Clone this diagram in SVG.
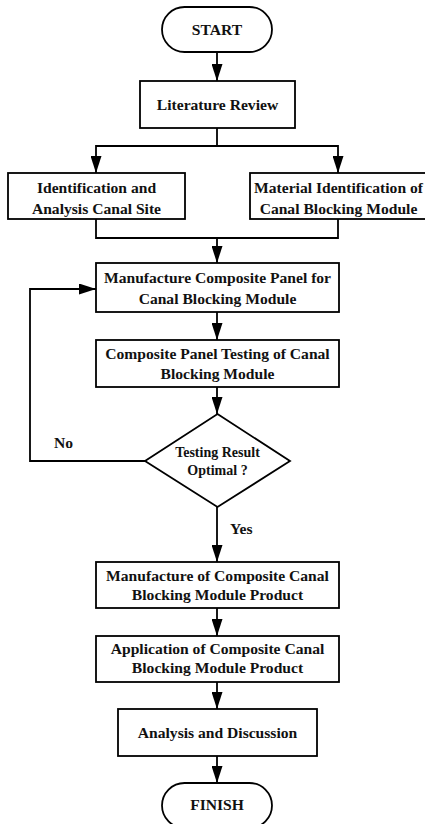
<svg xmlns="http://www.w3.org/2000/svg" width="425" height="824" viewBox="0 0 425 824">
  <style>
    .box { fill: #ffffff; stroke: #000000; stroke-width: 1.8; }
    .edge { fill: none; stroke: #000000; stroke-width: 1.8; }
    .lbl { font-family: "Liberation Serif", "Times New Roman", serif; font-weight: bold; font-size: 15.6px; fill: #111111; text-anchor: middle; }
    .small { font-size: 14px; }
    .side { text-anchor: start; }
  </style>
  <defs>
    <marker id="arrow" markerUnits="userSpaceOnUse" markerWidth="17" markerHeight="11" refX="17" refY="5.5" orient="auto">
      <path d="M0,0 L17,5.5 L0,11 Z" fill="#000000"/>
    </marker>
  </defs>
  <rect width="425" height="824" fill="#ffffff"/>

  <g id="connectors">
    <path class="edge" d="M217,52 V81" marker-end="url(#arrow)"/>
    <path class="edge" d="M217,128 V146"/>
    <path class="edge" d="M217,146 H96 V173" marker-end="url(#arrow)"/>
    <path class="edge" d="M217,146 H338 V173" marker-end="url(#arrow)"/>
    <path class="edge" d="M96,219 V238 H338 V219"/>
    <path class="edge" d="M217,238 V263" marker-end="url(#arrow)"/>
    <path class="edge" d="M217,312 V340" marker-end="url(#arrow)"/>
    <path class="edge" d="M217,387 V414" marker-end="url(#arrow)"/>
    <path class="edge" d="M145,461 H30 V289 H96" marker-end="url(#arrow)"/>
    <path class="edge" d="M217,507 V562" marker-end="url(#arrow)"/>
    <path class="edge" d="M217,608 V636" marker-end="url(#arrow)"/>
    <path class="edge" d="M217,682 V709" marker-end="url(#arrow)"/>
    <path class="edge" d="M217,756 V783" marker-end="url(#arrow)"/>
    <text class="lbl side" x="54" y="447.5">No</text>
    <text class="lbl side" x="230" y="534">Yes</text>
  </g>

  <g id="start">
    <rect class="box" x="162" y="7" width="110" height="45" rx="22.5"/>
    <text class="lbl" x="217" y="35">START</text>
  </g>

  <g id="literature-review">
    <rect class="box" x="140" y="81" width="155" height="47"/>
    <text class="lbl" x="217.5" y="110">Literature Review</text>
  </g>

  <g id="site-analysis">
    <rect class="box" x="8" y="173" width="177" height="46"/>
    <text class="lbl" x="96.5" y="192.5">Identification and</text>
    <text class="lbl" x="96.5" y="213.5">Analysis Canal Site</text>
  </g>

  <g id="material-identification">
    <rect class="box" x="250" y="173" width="178" height="46"/>
    <text class="lbl" x="338.5" y="192.5">Material Identification of</text>
    <text class="lbl" x="338.5" y="213.5">Canal Blocking Module</text>
  </g>

  <g id="panel-manufacture">
    <rect class="box" x="96" y="263" width="243" height="49"/>
    <text class="lbl" x="217.5" y="283">Manufacture Composite Panel for</text>
    <text class="lbl" x="217.5" y="304">Canal Blocking Module</text>
  </g>

  <g id="panel-testing">
    <rect class="box" x="96" y="340" width="243" height="47"/>
    <text class="lbl" x="217.5" y="359">Composite Panel Testing of Canal</text>
    <text class="lbl" x="217.5" y="378.5">Blocking Module</text>
  </g>

  <g id="result-check">
    <polygon class="box" points="217.5,414 290,461 217.5,507 145,461"/>
    <text class="lbl small" x="217.5" y="456.5">Testing Result</text>
    <text class="lbl small" x="217.5" y="475">Optimal ?</text>
  </g>

  <g id="product-manufacture">
    <rect class="box" x="96" y="562" width="243" height="46"/>
    <text class="lbl" x="217.5" y="580.5">Manufacture of Composite Canal</text>
    <text class="lbl" x="217.5" y="599.5">Blocking Module Product</text>
  </g>

  <g id="product-application">
    <rect class="box" x="96" y="636" width="243" height="46"/>
    <text class="lbl" x="217.5" y="654">Application of Composite Canal</text>
    <text class="lbl" x="217.5" y="673">Blocking Module Product</text>
  </g>

  <g id="analysis-discussion">
    <rect class="box" x="118" y="709" width="199" height="47"/>
    <text class="lbl" x="217.5" y="738">Analysis and Discussion</text>
  </g>

  <g id="finish">
    <rect class="box" x="162" y="783" width="110" height="45" rx="22.5"/>
    <text class="lbl" x="217" y="810">FINISH</text>
  </g>
</svg>
